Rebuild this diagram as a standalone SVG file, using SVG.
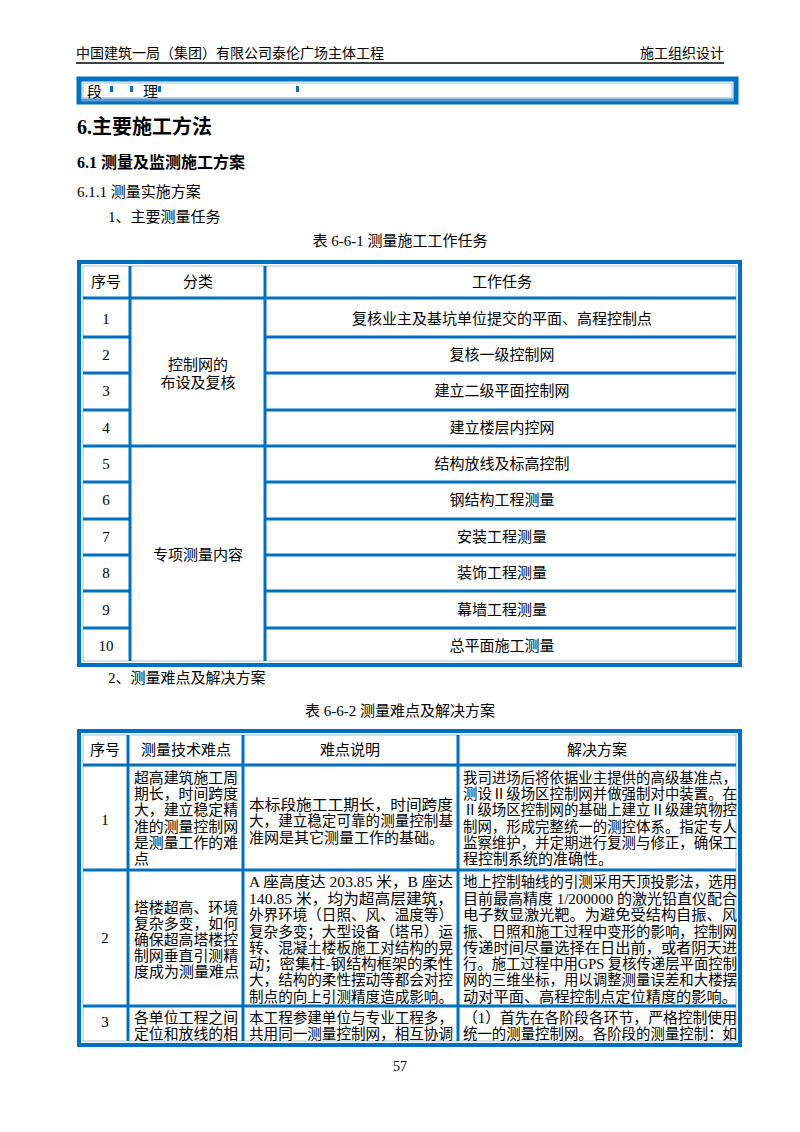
<svg xmlns="http://www.w3.org/2000/svg" width="800" height="1132" viewBox="0 0 800 1132">
<style>
text{font-family:"Liberation Serif","Noto Sans CJK SC",serif;fill:#000}
.s{font-size:14px}
.m{font-size:15px}
.c{text-anchor:middle}
.b{stroke:#0070C0;fill:none}
.bl{stroke:#9DC3E6;fill:none;stroke-width:1}
</style>
<rect width="800" height="1132" fill="#fff"/>
<g id="header">
<text x="76" y="58" class="s">中国建筑一局（集团）有限公司泰伦广场主体工程</text>
<text x="724" y="58" class="s" text-anchor="end">施工组织设计</text>
<line x1="76" y1="63" x2="724" y2="63" stroke="#000" stroke-width="1.5"/>
<rect x="79" y="79" width="657" height="23" class="b" stroke-width="5"/>
<rect x="83" y="83" width="649" height="15" class="bl"/>
<line x1="81" y1="100" x2="734" y2="100" stroke="#5B9BD5" stroke-width="3"/>
<text x="87" y="97" class="m">段</text><text x="143" y="97" class="m">理</text>
<rect x="110" y="86" width="3" height="6" fill="#0070C0"/><rect x="130" y="86" width="3" height="6" fill="#0070C0"/>
<rect x="158" y="86" width="3" height="6" fill="#0070C0"/><rect x="296" y="86" width="3" height="6" fill="#0070C0"/>
</g>
<g id="titles">
<text x="77" y="134" style="font-size:20px;font-weight:bold">6.主要施工方法</text>
<text x="77" y="168" style="font-size:16px;font-weight:bold">6.1 测量及监测施工方案</text>
<text x="77" y="197" class="m">6.1.1 测量实施方案</text>
<text x="108" y="222" class="m">1、主要测量任务</text>
<text x="400" y="246" class="m c">表 6-6-1 测量施工工作任务</text>
<text x="108" y="683" class="m">2、测量难点及解决方案</text>
<text x="400" y="716" class="m c">表 6-6-2 测量难点及解决方案</text>
<text x="400" y="1071" class="s c">57</text>
</g>
<g id="table1">
<rect x="79" y="262" width="661" height="403" class="b" stroke-width="4"/>
<rect x="83" y="266" width="653" height="395" class="bl"/>
<g class="b" stroke-width="3">
<line x1="130" y1="266" x2="130" y2="661"/><line x1="265" y1="266" x2="265" y2="661"/>
<line x1="83" y1="298" x2="736" y2="298"/>
<line x1="83" y1="337" x2="130" y2="337"/><line x1="265" y1="337" x2="736" y2="337"/>
<line x1="83" y1="373" x2="130" y2="373"/><line x1="265" y1="373" x2="736" y2="373"/>
<line x1="83" y1="410" x2="130" y2="410"/><line x1="265" y1="410" x2="736" y2="410"/>
<line x1="83" y1="446" x2="736" y2="446"/>
<line x1="83" y1="482" x2="130" y2="482"/><line x1="265" y1="482" x2="736" y2="482"/>
<line x1="83" y1="519" x2="130" y2="519"/><line x1="265" y1="519" x2="736" y2="519"/>
<line x1="83" y1="555" x2="130" y2="555"/><line x1="265" y1="555" x2="736" y2="555"/>
<line x1="83" y1="591" x2="130" y2="591"/><line x1="265" y1="591" x2="736" y2="591"/>
<line x1="83" y1="628" x2="130" y2="628"/><line x1="265" y1="628" x2="736" y2="628"/>
</g>
<g class="m c">
<text x="106" y="287">序号</text><text x="198" y="287">分类</text><text x="502" y="287">工作任务</text>
<text x="106" y="324">1</text><text x="106" y="360">2</text><text x="106" y="396">3</text><text x="106" y="433">4</text>
<text x="106" y="469">5</text><text x="106" y="505">6</text><text x="106" y="542">7</text><text x="106" y="578">8</text>
<text x="106" y="615">9</text><text x="106" y="651">10</text>
<text x="198" y="370">控制网的</text><text x="198" y="388">布设及复核</text>
<text x="198" y="560">专项测量内容</text>
<text x="502" y="324">复核业主及基坑单位提交的平面、高程控制点</text>
<text x="502" y="360">复核一级控制网</text>
<text x="502" y="396">建立二级平面控制网</text>
<text x="502" y="433">建立楼层内控网</text>
<text x="502" y="469">结构放线及标高控制</text>
<text x="502" y="505">钢结构工程测量</text>
<text x="502" y="542">安装工程测量</text>
<text x="502" y="578">装饰工程测量</text>
<text x="502" y="615">幕墙工程测量</text>
<text x="502" y="651">总平面施工测量</text>
</g>
</g>
<g id="table2">
<rect x="79" y="731" width="661" height="314" class="b" stroke-width="4"/>
<rect x="83" y="735" width="653" height="306" class="bl"/>
<g class="b" stroke-width="3">
<line x1="128" y1="735" x2="128" y2="1041"/><line x1="243" y1="735" x2="243" y2="1041"/><line x1="458" y1="735" x2="458" y2="1041"/>
<line x1="83" y1="765" x2="736" y2="765"/>
<line x1="83" y1="870" x2="736" y2="870"/>
<line x1="83" y1="1006" x2="736" y2="1006"/>
</g>
<g class="m c">
<text x="105" y="755">序号</text><text x="186" y="755">测量技术难点</text><text x="350" y="755">难点说明</text><text x="597" y="755">解决方案</text>
<text x="105" y="825">1</text><text x="105" y="943">2</text><text x="105" y="1027">3</text>
</g>
<g class="m">
<text x="134" y="783" textLength="104" lengthAdjust="spacingAndGlyphs">超高建筑施工周</text>
<text x="134" y="799" textLength="104" lengthAdjust="spacingAndGlyphs">期长，时间跨度</text>
<text x="134" y="815" textLength="104" lengthAdjust="spacingAndGlyphs">大，建立稳定精</text>
<text x="134" y="832" textLength="104" lengthAdjust="spacingAndGlyphs">准的测量控制网</text>
<text x="134" y="848" textLength="104" lengthAdjust="spacingAndGlyphs">是测量工作的难</text>
<text x="134" y="864">点</text>
<text x="249" y="810" textLength="204" lengthAdjust="spacingAndGlyphs">本标段施工工期长，时间跨度</text>
<text x="249" y="826" textLength="204" lengthAdjust="spacingAndGlyphs">大，建立稳定可靠的测量控制基</text>
<text x="249" y="843">准网是其它测量工作的基础。</text>
<text x="463" y="783" textLength="274" lengthAdjust="spacingAndGlyphs">我司进场后将依据业主提供的高级基准点，</text>
<text x="463" y="799" textLength="274" lengthAdjust="spacingAndGlyphs">测设Ⅱ级场区控制网并做强制对中装置。在</text>
<text x="463" y="815" textLength="274" lengthAdjust="spacingAndGlyphs">Ⅱ级场区控制网的基础上建立Ⅱ级建筑物控</text>
<text x="463" y="832" textLength="274" lengthAdjust="spacingAndGlyphs">制网，形成完整统一的测控体系。指定专人</text>
<text x="463" y="848" textLength="274" lengthAdjust="spacingAndGlyphs">监察维护，并定期进行复测与修正，确保工</text>
<text x="463" y="864">程控制系统的准确性。</text>
<text x="134" y="913" textLength="104" lengthAdjust="spacingAndGlyphs">塔楼超高、环境</text>
<text x="134" y="929" textLength="104" lengthAdjust="spacingAndGlyphs">复杂多变，如何</text>
<text x="134" y="945" textLength="104" lengthAdjust="spacingAndGlyphs">确保超高塔楼控</text>
<text x="134" y="961" textLength="104" lengthAdjust="spacingAndGlyphs">制网垂直引测精</text>
<text x="134" y="977">度成为测量难点</text>
<text x="249" y="887" textLength="204" lengthAdjust="spacingAndGlyphs">A 座高度达 203.85 米，B 座达</text>
<text x="249" y="904" textLength="204" lengthAdjust="spacingAndGlyphs">140.85 米，均为超高层建筑，</text>
<text x="249" y="920" textLength="204" lengthAdjust="spacingAndGlyphs">外界环境（日照、风、温度等）</text>
<text x="249" y="937" textLength="204" lengthAdjust="spacingAndGlyphs">复杂多变；大型设备（塔吊）运</text>
<text x="249" y="953" textLength="204" lengthAdjust="spacingAndGlyphs">转、混凝土楼板施工对结构的晃</text>
<text x="249" y="969" textLength="204" lengthAdjust="spacingAndGlyphs">动；密集柱-钢结构框架的柔性</text>
<text x="249" y="985" textLength="204" lengthAdjust="spacingAndGlyphs">大，结构的柔性摆动等都会对控</text>
<text x="249" y="1002" textLength="204" lengthAdjust="spacingAndGlyphs">制点的向上引测精度造成影响。</text>
<text x="463" y="887" textLength="274" lengthAdjust="spacingAndGlyphs">地上控制轴线的引测采用天顶投影法，选用</text>
<text x="463" y="904" textLength="274" lengthAdjust="spacingAndGlyphs">目前最高精度 1/200000 的激光铅直仪配合</text>
<text x="463" y="920" textLength="274" lengthAdjust="spacingAndGlyphs">电子数显激光靶。为避免受结构自振、风</text>
<text x="463" y="937" textLength="274" lengthAdjust="spacingAndGlyphs">振、日照和施工过程中变形的影响，控制网</text>
<text x="463" y="953" textLength="274" lengthAdjust="spacingAndGlyphs">传递时间尽量选择在日出前，或者阴天进</text>
<text x="463" y="969" textLength="274" lengthAdjust="spacingAndGlyphs">行。施工过程中用GPS 复核传递层平面控制</text>
<text x="463" y="985" textLength="274" lengthAdjust="spacingAndGlyphs">网的三维坐标，用以调整测量误差和大楼摆</text>
<text x="463" y="1002" textLength="274" lengthAdjust="spacingAndGlyphs">动对平面、高程控制点定位精度的影响。</text>
<text x="134" y="1023" textLength="104" lengthAdjust="spacingAndGlyphs">各单位工程之间</text>
<text x="134" y="1039" textLength="104" lengthAdjust="spacingAndGlyphs">定位和放线的相</text>
<text x="249" y="1023" textLength="204" lengthAdjust="spacingAndGlyphs">本工程参建单位与专业工程多，</text>
<text x="249" y="1039" textLength="204" lengthAdjust="spacingAndGlyphs">共用同一测量控制网，相互协调</text>
<text x="463" y="1023" textLength="274" lengthAdjust="spacingAndGlyphs">（1）首先在各阶段各环节，严格控制使用</text>
<text x="463" y="1039" textLength="274" lengthAdjust="spacingAndGlyphs">统一的测量控制网。各阶段的测量控制：如</text>
</g>
</g>
</svg>
